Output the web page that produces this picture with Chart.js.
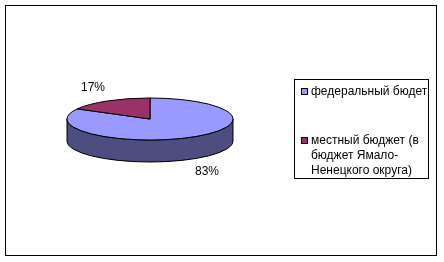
<!DOCTYPE html>
<html>
<head>
<meta charset="utf-8">
<script src="https://cdn.jsdelivr.net/npm/chart.js@4/dist/chart.umd.min.js"></script>
<style>
  body { margin: 0; background: #fff; }
  canvas { display: block; }
</style>
</head>
<body>
<canvas id="pie" width="444" height="262"></canvas>
<script>
const categories = ['федеральный бюдет', 'местный бюджет (в бюджет Ямало-Ненецкого округа)'];
const legendLines = [['федеральный бюдет'], ['местный бюджет (в', 'бюджет Ямало-', 'Ненецкого округа)']];
const shares = [83, 17];

const topColors = ['#9999FF', '#993366'];
const sideColors = ['#4D4D80', '#4D1A33'];
const FONT = '12px "Liberation Sans", Arial, sans-serif';
const squash = 21 / 83;   // vertical / horizontal radius of the tilted pie
const depth = 22;

// draws the pie as a tilted 3d disc, using the arcs Chart.js computed
const pie3d = {
  id: 'pie3d',
  beforeDatasetsDraw(chart) {
    const ctx = chart.ctx;
    const arcs = chart.getDatasetMeta(0).data;
    ctx.save();
    ctx.lineWidth = 1;
    ctx.strokeStyle = '#000';

    // side walls (only the front half is visible)
    arcs.forEach((arc, i) => {
      const p = arc.getProps(['x', 'y', 'startAngle', 'endAngle', 'outerRadius'], true);
      const rx = p.outerRadius, ry = p.outerRadius * squash;
      for (let k = -1; k <= 1; k++) {
        const a0 = Math.max(p.startAngle, k * 2 * Math.PI);
        const a1 = Math.min(p.endAngle, k * 2 * Math.PI + Math.PI);
        if (a1 <= a0) continue;
        ctx.beginPath();
        ctx.ellipse(p.x, p.y, rx, ry, 0, a0, a1);
        ctx.lineTo(p.x + rx * Math.cos(a1), p.y + depth + ry * Math.sin(a1));
        ctx.ellipse(p.x, p.y + depth, rx, ry, 0, a1, a0, true);
        ctx.closePath();
        ctx.fillStyle = sideColors[i];
        ctx.fill();
        ctx.stroke();
      }
    });

    // top faces
    arcs.forEach((arc, i) => {
      const p = arc.getProps(['x', 'y', 'startAngle', 'endAngle', 'outerRadius'], true);
      const rx = p.outerRadius, ry = p.outerRadius * squash;
      ctx.beginPath();
      ctx.moveTo(p.x, p.y);
      ctx.ellipse(p.x, p.y, rx, ry, 0, p.startAngle, p.endAngle);
      ctx.closePath();
      ctx.fillStyle = topColors[i];
      ctx.fill();
      ctx.stroke();
    });

    // percent labels
    ctx.fillStyle = '#000';
    ctx.font = FONT;
    ctx.textAlign = 'center';
    ctx.textBaseline = 'middle';
    arcs.forEach((arc, i) => {
      const p = arc.getProps(['x', 'y', 'startAngle', 'endAngle', 'outerRadius'], true);
      const mid = (p.startAngle + p.endAngle) / 2;
      const rx = p.outerRadius, ry = p.outerRadius * squash;
      const s = Math.sin(mid);
      const lx = p.x + Math.cos(mid) * (rx + 29);
      const ly = p.y + s * (ry + 15) + (s > 0 ? depth : 0);
      ctx.fillText(shares[i] + '%', lx, ly);
    });
    ctx.restore();
    return false;
  },
  afterDraw(chart) {
    const ctx = chart.ctx;
    ctx.save();
    ctx.strokeStyle = '#000';
    ctx.lineWidth = 1;
    // outer frame
    ctx.strokeRect(5.5, 5.5, 431, 250);
    // legend
    ctx.strokeRect(294.5, 79.5, 134, 99);
    ctx.font = FONT;
    ctx.textBaseline = 'middle';
    ctx.textAlign = 'left';
    const rows = [92, 141];
    legendLines.forEach((lines, i) => {
      const y = rows[i];
      ctx.fillStyle = topColors[i];
      ctx.fillRect(301.5, y - 3.5, 6, 6);
      ctx.strokeRect(301.5, y - 3.5, 6, 6);
      ctx.fillStyle = '#000';
      lines.forEach((t, j) => ctx.fillText(t, 311, y + j * 15));
    });
    ctx.restore();
  }
};

new Chart(document.getElementById('pie'), {
  type: 'pie',
  data: {
    labels: categories,
    datasets: [{
      data: shares,
      backgroundColor: topColors,
      borderWidth: 0
    }]
  },
  options: {
    responsive: false,
    animation: false,
    layout: { padding: { left: 67, right: 211, top: 36, bottom: 60 } },
    plugins: {
      legend: { display: false },
      tooltip: { enabled: false }
    }
  },
  plugins: [pie3d]
});
</script>
</body>
</html>
